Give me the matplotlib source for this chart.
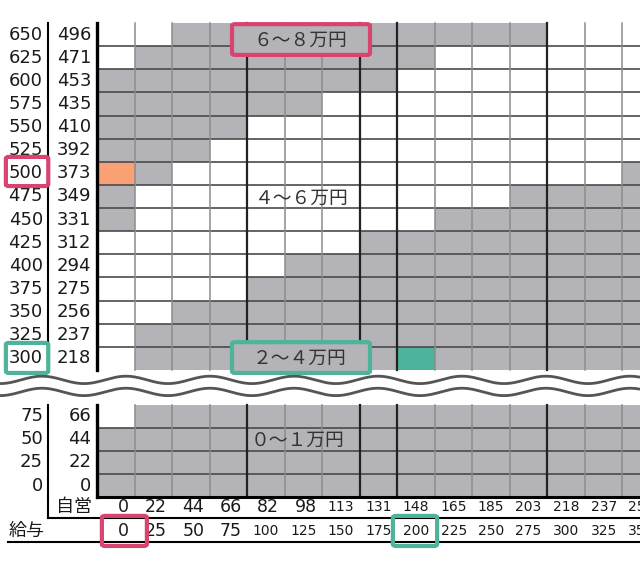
"""
Income band grid: salary (給与) vs self-employment (自営) with a broken y axis.
"""
import numpy as np
import matplotlib
matplotlib.use("Agg")
import matplotlib.pyplot as plt
from matplotlib.patches import Rectangle, FancyBboxPatch

plt.rcParams["font.family"] = ["DejaVu Sans", "Noto Sans CJK JP"]
JP = ["Noto Sans CJK JP", "DejaVu Sans"]

# ── data ─────────────────────────────────────────────
kyuyo_cols = [0, 25, 50, 75, 100, 125, 150, 175, 200, 225, 250, 275, 300, 325, 350]
jiei_cols = [0, 22, 44, 66, 82, 98, 113, 131, 148, 165, 185, 203, 218, 237, 255]

upper_kyuyo = [650, 625, 600, 575, 550, 525, 500, 475, 450, 425, 400, 375, 350, 325, 300]
upper_jiei = [496, 471, 453, 435, 410, 392, 373, 349, 331, 312, 294, 275, 256, 237, 218]
# W = white, G = gray band, O = orange marker, T = teal marker
upper_cells = [
    "WWGGGGGGGGGGWWW",
    "WGGGGGGGGWWWWWW",
    "GGGGGGGGWWWWWWW",
    "GGGGGGWWWWWWWWW",
    "GGGGWWWWWWWWWWW",
    "GGGWWWWWWWWWWWW",
    "OGWWWWWWWWWWWWG",
    "GWWWWWWWWWWGGGG",
    "GWWWWWWWWGGGGGG",
    "WWWWWWWGGGGGGGG",
    "WWWWWGGGGGGGGGG",
    "WWWWGGGGGGGGGGG",
    "WWGGGGGGGGGGGGG",
    "WGGGGGGGGGGGGGG",
    "WGGGGGGGTGGGGGG",
]
lower_kyuyo = [75, 50, 25, 0]
lower_jiei = [66, 44, 22, 0]
lower_cells = [
    "WGGGGGGGGGGGGGG",
    "GGGGGGGGGGGGGGG",
    "GGGGGGGGGGGGGGG",
    "GGGGGGGGGGGGGGG",
]

GRAY = "#b4b4b8"
ORANGE = "#f9a074"
TEAL = "#4db39b"
PINK = "#d6446f"
FILL = {"W": "white", "G": GRAY, "O": ORANGE, "T": TEAL}
THICK_COLS = [4, 7, 8, 12]

# ── layout: x unit = one column, y unit = one row ────
CW, RH = 37.5, 23.13      # px per column / row
X0, Y0 = 97, 23           # px of grid origin
LOW_TOP = 16.5            # lower block starts after the break
SEP_X = -1.31
JIEI_Y, KYUYO_Y = 20.93, 21.96

fig = plt.figure(figsize=(6.4, 5.68), dpi=100)
ax = fig.add_axes([0, 0, 1, 1])
ax.set_xlim(-X0 / CW, (640 - X0) / CW)
ax.set_ylim((568 - Y0) / RH, -Y0 / RH)
ax.axis("off")
XR = (640 - X0) / CW + 0.5


def draw_block(cells, top, kyuyo, jiei):
    nrows, ncols = len(cells), len(cells[0]) + 1
    for r, row in enumerate(cells):
        for c, code in enumerate(row):
            ax.add_patch(Rectangle((c, top + r), 1, 1, facecolor=FILL[code],
                                   edgecolor="none", zorder=1))
        ax.text(-1.44, top + r + 0.5, str(kyuyo[r]), ha="right", va="center",
                fontsize=13, color="#1a1a1a")
        ax.text(-0.15, top + r + 0.5, str(jiei[r]), ha="right", va="center",
                fontsize=13, color="#1a1a1a")
    for r in range(1, nrows):
        ax.plot([0, ncols], [top + r] * 2, color="#4a4a4a", lw=1.2, zorder=2)
    for c in range(1, ncols + 1):
        if c in THICK_COLS:
            ax.plot([c, c], [top, top + nrows], color="#222222", lw=1.6, zorder=2.5)
        else:
            ax.plot([c, c], [top, top + nrows], color="#8c8c8c", lw=1.1, zorder=2)
    ax.plot([0, 0], [top, top + nrows], color="black", lw=2.4, zorder=3)
    ax.plot([SEP_X, SEP_X], [top, top + nrows], color="black", lw=1.5, zorder=3)


draw_block(upper_cells, 0, upper_kyuyo, upper_jiei)
draw_block(lower_cells, LOW_TOP, lower_kyuyo, lower_jiei)

# frame lines around the lower block and header rows
ax.plot([0, XR], [LOW_TOP + 4] * 2, color="black", lw=2.2, zorder=3)
ax.plot([SEP_X, SEP_X], [LOW_TOP + 4, 21.40], color="black", lw=1.5, zorder=3)
ax.plot([SEP_X, XR], [21.40] * 2, color="black", lw=1.5, zorder=3)
ax.plot([-2.37, XR], [22.44] * 2, color="black", lw=1.5, zorder=3)

# column labels
for c, (k, j) in enumerate(zip(kyuyo_cols, jiei_cols)):
    for val, yy in ((j, JIEI_Y), (k, KYUYO_Y)):
        fs = 12.5 if len(str(val)) < 3 else 10
        ax.text(c + 1 - 0.14, yy, str(val), ha="right", va="center",
                fontsize=fs, color="#1a1a1a")
ax.text(-0.13, JIEI_Y, "自営", ha="right", va="center", fontsize=13,
        family=JP, color="#1a1a1a")
ax.text(-2.37, KYUYO_Y, "給与", ha="left", va="center", fontsize=13,
        family=JP, color="#1a1a1a")

# axis break: two wavy lines
xs = np.linspace(-X0 / CW, (640 - X0) / CW, 400)
for yc in (15.43, 15.95):
    ys = yc - 0.16 * np.cos(2 * np.pi * (xs * CW + X0 - 42) / 84)
    ax.plot(xs, ys, color="#555555", lw=2.0, zorder=4, solid_capstyle="butt")


def box(x0, x1, y0, y1, color):
    ax.add_patch(FancyBboxPatch((x0, y0), x1 - x0, y1 - y0,
                                boxstyle="round,pad=0,rounding_size=0.08",
                                facecolor="none", edgecolor=color, lw=3.0, zorder=6))


# band labels inside the grid
for txt, xx, yy, ec in (("６～８万円", 5.41, 0.73, PINK),
                        ("２～４万円", 5.41, 14.48, TEAL)):
    ax.add_patch(Rectangle((3.6, yy - 0.62), 3.68, 1.24, facecolor=GRAY,
                           edgecolor="none", zorder=5))
    box(3.6, 7.28, yy - 0.68, yy + 0.65, ec)
    ax.text(xx, yy, txt, ha="center", va="center", fontsize=13.5, family=JP,
            color="#333333", zorder=7)
ax.text(5.47, 7.6, "４～６万円", ha="center", va="center", fontsize=13.5,
        family=JP, color="#333333", zorder=7)
ax.text(5.35, 18.03, "０～１万円", ha="center", va="center", fontsize=13.5,
        family=JP, color="#333333", zorder=7)

# highlight boxes on the axis labels
box(-2.43, -1.30, 5.79, 7.05, PINK)
box(-2.43, -1.30, 13.83, 15.13, TEAL)
box(0.13, 1.33, 21.31, 22.61, PINK)
box(7.89, 9.07, 21.31, 22.61, TEAL)

plt.savefig("out.png", dpi=100)
